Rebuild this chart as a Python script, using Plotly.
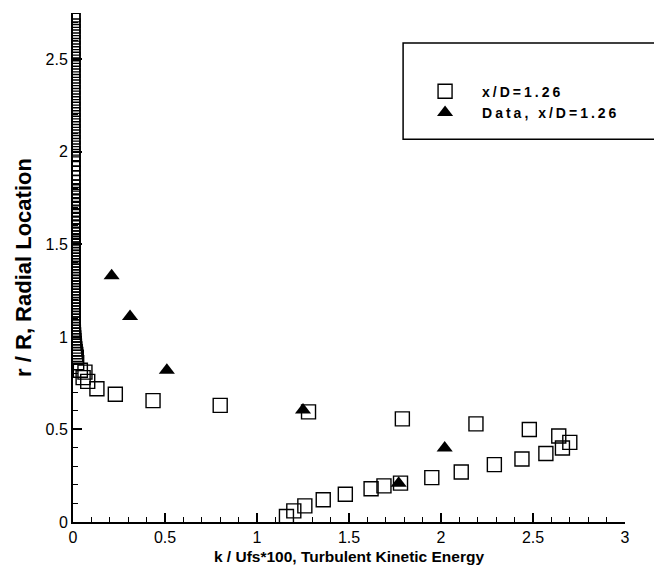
import plotly.graph_objects as go

# Computed profile at x/D = 1.26: dense near-axis column of grid points
col_y = [2.74, 2.71, 2.68, 2.65, 2.62, 2.59, 2.56, 2.53, 2.50, 2.47, 2.44, 2.41,
         2.38, 2.35, 2.32, 2.29, 2.26, 2.23, 2.20, 2.17, 2.14, 2.11, 2.08, 2.05,
         2.02, 1.99, 1.96, 1.935, 1.91, 1.885, 1.86, 1.835, 1.81, 1.79, 1.77,
         1.75, 1.73, 1.71, 1.69, 1.67, 1.65, 1.63, 1.61, 1.59, 1.57, 1.55, 1.535,
         1.52, 1.505, 1.49, 1.475, 1.46, 1.445, 1.43, 1.415, 1.40, 1.385, 1.37,
         1.355, 1.34, 1.325, 1.31, 1.295, 1.28, 1.265, 1.25, 1.235, 1.22, 1.205,
         1.19, 1.175, 1.16, 1.145, 1.13, 1.115, 1.10, 1.085, 1.07, 1.055, 1.04,
         1.025, 1.01, 0.995, 0.98, 0.965, 0.95, 0.935, 0.92, 0.905, 0.89]
col_k = [0.0] * 80 + [0.002, 0.003, 0.004, 0.005, 0.006, 0.008, 0.010, 0.012, 0.015, 0.018]

# Remaining computed points, from the shear layer down to the centreline
cfd_k = [0.02, 0.04, 0.065, 0.055, 0.08, 0.13, 0.23, 0.435, 0.80, 1.28, 1.79,
         2.19, 2.48, 2.64, 2.70, 2.66, 2.57, 2.44, 2.29, 2.11, 1.95, 1.78, 1.69,
         1.62, 1.48, 1.36, 1.26, 1.20, 1.16]
cfd_r = [0.86, 0.82, 0.81, 0.78, 0.76, 0.72, 0.69, 0.656, 0.63, 0.595, 0.557,
         0.53, 0.50, 0.465, 0.43, 0.40, 0.37, 0.34, 0.31, 0.27, 0.24, 0.21, 0.195,
         0.18, 0.15, 0.12, 0.087, 0.06, 0.03]

# Measured data at x/D = 1.26
exp_k = [0.21, 0.31, 0.51, 1.25, 1.77, 2.02]
exp_r = [1.33, 1.11, 0.82, 0.605, 0.21, 0.40]

x_ticks = [0, 0.5, 1, 1.5, 2, 2.5, 3]
x_tick_text = ["0", "0.5", "1", "1.5", "2", "2.5", "3"]
y_ticks = [0, 0.5, 1, 1.5, 2, 2.5]
y_tick_text = ["0", "0.5", "1", "1.5", "2", "2.5"]

FONT = "Liberation Sans, Arial, sans-serif"
SPACED = "<span style='letter-spacing:3px'>{}</span>"

fig = go.Figure()

fig.add_trace(go.Scatter(
    x=col_k + cfd_k, y=col_y + cfd_r, mode="markers", name=SPACED.format("x/D=1.26"),
    marker=dict(symbol="square-open", size=14, color="black", line=dict(width=1.4)),
))
fig.add_trace(go.Scatter(
    x=exp_k, y=exp_r, mode="markers", name=SPACED.format("Data, x/D=1.26"),
    marker=dict(symbol="triangle-up", size=14, color="black"),
))

axis_common = dict(
    showline=True, linecolor="black", linewidth=2, mirror=False,
    showgrid=False, zeroline=False, automargin=False,
    ticks="inside", ticklen=9, tickwidth=2, tickcolor="black",
    tickfont=dict(family=FONT, size=16, color="black"),
)

fig.update_xaxes(
    range=[0, 3], tickvals=x_ticks, ticktext=x_tick_text,
    minor=dict(dtick=0.1, ticks="inside", ticklen=5, tickwidth=1.2, tickcolor="black"),
    title=dict(text="<b>k / Ufs*100, Turbulent Kinetic Energy</b>",
               font=dict(family=FONT, size=15.5, color="black"), standoff=6),
    **axis_common,
)
fig.update_yaxes(
    range=[0, 2.75], tickvals=y_ticks, ticktext=y_tick_text,
    minor=dict(dtick=0.1, ticks="inside", ticklen=5, tickwidth=1.2, tickcolor="black"),
    title=dict(text="<b>r / R, Radial Location</b>",
               font=dict(family=FONT, size=22, color="black"), standoff=8),
    **axis_common,
)

# Legend frame
fig.add_shape(type="rect", xref="paper", yref="paper",
              x0=0.598, x1=1.06, y0=0.752, y1=0.941,
              line=dict(color="black", width=1.5), fillcolor="white", layer="below")

fig.update_layout(
    width=654, height=571,
    margin=dict(l=73, r=29, t=13, b=49, autoexpand=False),
    paper_bgcolor="white", plot_bgcolor="white",
    font=dict(family=FONT, color="black"),
    legend=dict(x=0.607, y=0.877, xanchor="left", yanchor="top",
                bgcolor="rgba(0,0,0,0)", borderwidth=0,
                font=dict(family=FONT, size=14, color="black", weight="bold"),
                tracegroupgap=0, itemwidth=64),
    showlegend=True,
)

fig.write_html("out.html")
